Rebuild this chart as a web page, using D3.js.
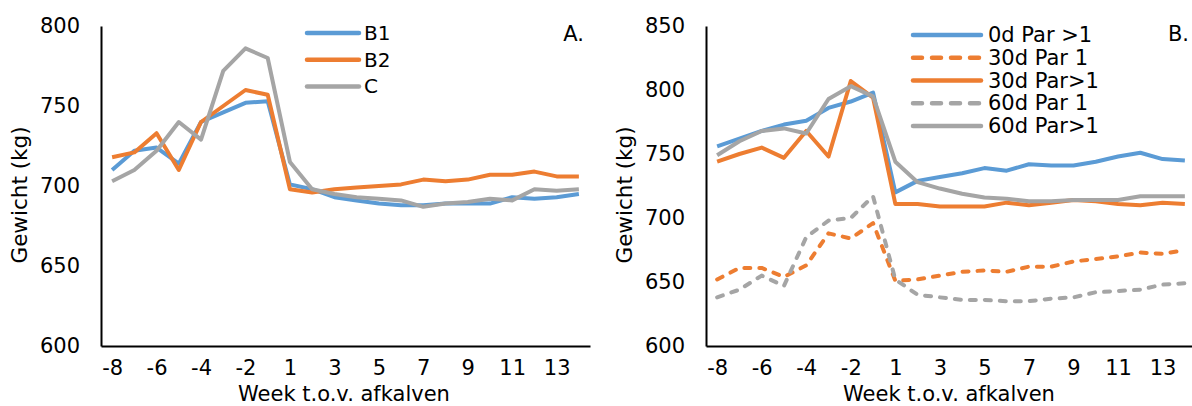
<!DOCTYPE html>
<html>
<head>
<meta charset="utf-8">
<script src="https://d3js.org/d3.v7.min.js"></script>
<style>
  body { margin: 0; background: #fff; }
  text { font-family: "DejaVu Sans", Verdana, sans-serif; fill: #000; }
</style>
</head>
<body>
<div id="chart"></div>
<script>
// weeks relative to calving (no week 0)
var weeks = [-8, -7, -6, -5, -4, -3, -2, -1, 1, 2, 3, 4, 5, 6, 7, 8, 9, 10, 11, 12, 13, 14];
var weekTicks = [-8, -6, -4, -2, 1, 3, 5, 7, 9, 11, 13];

// panel A
var b1 = [710, 722, 724, 714, 740, 746, 752, 753, 701, 698, 693, 691, 689, 688, 688, 689, 689, 689, 693, 692, 693, 695];
var b2 = [718, 721, 733, 710, 740, 750, 760, 757, 698, 696, 698, 699, 700, 701, 704, 703, 704, 707, 707, 709, 706, 706];
var c  = [703, 710, 722, 740, 729, 772, 786, 780, 715, 698, 695, 693, 692, 691, 687, 689, 690, 692, 691, 698, 697, 698];
var ticksA = [600, 650, 700, 750, 800];

// panel B
var d0Par2  = [756, 762, 768, 773, 776, 786, 791, 798, 720, 729, 732, 735, 739, 737, 742, 741, 741, 744, 748, 751, 746, 745];
var d30Par1 = [652, 661, 661, 654, 663, 688, 684, 696, 651, 652, 655, 658, 659, 658, 662, 662, 666, 668, 670, 673, 672, 675];
var d30Par2 = [744, 750, 755, 747, 768, 748, 807, 794, 711, 711, 709, 709, 709, 712, 710, 712, 714, 713, 711, 710, 712, 711];
var d60Par1 = [638, 644, 655, 647, 685, 698, 700, 717, 652, 640, 638, 636, 636, 635, 635, 637, 638, 642, 643, 644, 648, 649];
var d60Par2 = [749, 760, 768, 770, 766, 793, 803, 795, 744, 728, 723, 719, 716, 715, 713, 713, 714, 714, 714, 717, 717, 717];
var ticksB = [600, 650, 700, 750, 800, 850];

var blue = "#5B9BD5", orange = "#ED7D31", grey = "#A5A5A5";

var svg = d3.select("#chart").append("svg")
  .attr("width", 1192)
  .attr("height", 406);

function panel(opt) {
  var x = d3.scalePoint().domain(weeks).range([opt.x0, opt.x1]).padding(0.5);
  var y = d3.scaleLinear().domain(opt.domain).range([346, 26]);
  var g = svg.append("g");

  // axes
  var ya = g.append("g")
    .attr("transform", "translate(" + opt.x0 + ",0)")
    .call(d3.axisLeft(y).tickValues(opt.yTicks).tickSize(0).tickPadding(21));
  ya.select(".domain").attr("stroke", "#000").attr("stroke-width", 2);
  ya.selectAll("text").style("font-size", "21px");

  var xa = g.append("g")
    .attr("transform", "translate(0,346)")
    .call(d3.axisBottom(x).tickValues(weekTicks).tickSize(0).tickPadding(14));
  xa.select(".domain").attr("stroke", "#000").attr("stroke-width", 2);
  xa.selectAll("text").style("font-size", "21px");

  g.append("text")
    .attr("transform", "translate(" + (opt.x0 - 74) + ",195) rotate(-90)")
    .attr("text-anchor", "middle")
    .style("font-size", "21.5px")
    .text("Gewicht (kg)");

  g.append("text")
    .attr("x", opt.x0 + 243)
    .attr("y", 400.5)
    .attr("text-anchor", "middle")
    .style("font-size", "21px")
    .text("Week t.o.v. afkalven");

  g.append("text")
    .attr("x", opt.labelX)
    .attr("y", 41)
    .attr("text-anchor", "end")
    .style("font-size", "21px")
    .text(opt.label);

  var line = d3.line()
    .x(function(d, i) { return x(weeks[i]); })
    .y(function(d) { return y(d); });

  opt.series.forEach(function(s) {
    g.append("path")
      .datum(s.values)
      .attr("fill", "none")
      .attr("stroke", s.color)
      .attr("stroke-width", 4)
      .attr("stroke-linejoin", "round")
      .attr("stroke-linecap", s.dash ? "round" : "butt")
      .attr("stroke-dasharray", s.dash ? "6,9" : null)
      .attr("d", line);
  });

  // legend
  var lg = g.append("g");
  opt.series.forEach(function(s, i) {
    var ly = opt.legY + i * opt.legStep;
    lg.append("line")
      .attr("x1", opt.legX).attr("x2", opt.legX + opt.legW)
      .attr("y1", ly).attr("y2", ly)
      .attr("stroke", s.color)
      .attr("stroke-width", 4.5)
      .attr("stroke-linecap", "round")
      .attr("stroke-dasharray", s.dash ? "9,10" : null);
    lg.append("text")
      .attr("x", opt.legX + opt.legW + opt.legGap)
      .attr("y", ly + 7)
      .style("font-size", opt.legFont)
      .text(s.name);
  });
}

panel({
  x0: 101, x1: 590, domain: [600, 800], yTicks: ticksA,
  label: "A.", labelX: 584,
  legX: 307, legW: 52, legGap: 5, legY: 33, legStep: 26.7, legFont: "20px",
  series: [
    {name: "B1", values: b1, color: blue},
    {name: "B2", values: b2, color: orange},
    {name: "C", values: c, color: grey}
  ]
});

panel({
  x0: 706, x1: 1196, domain: [600, 850], yTicks: ticksB,
  label: "B.", labelX: 1189,
  legX: 913, legW: 68, legGap: 7, legY: 35, legStep: 22.75, legFont: "21px",
  series: [
    {name: "0d Par >1", values: d0Par2, color: blue},
    {name: "30d Par 1", values: d30Par1, color: orange, dash: true},
    {name: "30d Par>1", values: d30Par2, color: orange},
    {name: "60d Par 1", values: d60Par1, color: grey, dash: true},
    {name: "60d Par>1", values: d60Par2, color: grey}
  ]
});
</script>
</body>
</html>
